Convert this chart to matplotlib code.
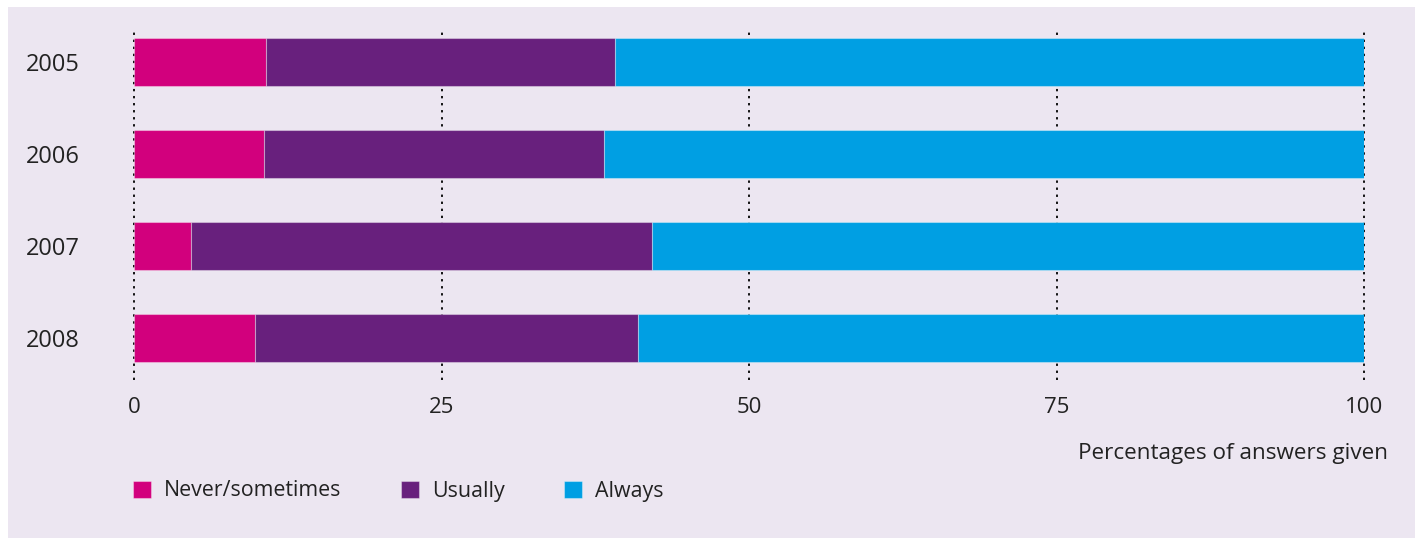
import matplotlib.pyplot as plt
from matplotlib.patches import Rectangle

years = ['2005', '2006', '2007', '2008']
never_sometimes = [10.7, 10.6, 4.6, 9.8]
usually = [28.4, 27.6, 37.5, 31.2]
always = [60.9, 61.8, 57.9, 59.0]

labels = ['Never/sometimes', 'Usually', 'Always']
colors = ['#D2007D', '#68207D', '#009FE3']
ticks = [0, 25, 50, 75, 100]

plt.rcParams['font.family'] = ['Open Sans', 'DejaVu Sans']
txt = '#222222'

W, H = 1422, 541
fig = plt.figure(figsize=(W / 100, H / 100), dpi=100)
fig.patch.set_facecolor('white')

# lavender panel behind everything
fig.patches.append(Rectangle((8 / W, 1 - 538 / H), (1415 - 8) / W, (538 - 7) / H,
                             transform=fig.transFigure, facecolor='#ECE6F1',
                             edgecolor='none', zorder=-1))

ax = fig.add_axes([134 / W, 1 - 380 / H, (1364 - 134) / W, (380 - 28) / H])
ax.set_zorder(1)
ax.set_facecolor('none')

y = list(range(len(years)))
left = [0] * len(years)
bars = []
for vals, lab, col in zip([never_sometimes, usually, always], labels, colors):
    b = ax.barh(y, vals, left=left, height=0.52, color=col, label=lab,
                edgecolor=(1, 1, 1, 0.35), linewidth=0.8, zorder=3)
    bars.append(b)
    left = [l + v for l, v in zip(left, vals)]

ax.set_xlim(0, 100)
ax.set_ylim(3 + 42 / 92, -34 / 92)
ax.set_xticks(ticks)
ax.set_yticks(y)
ax.set_yticklabels(years)
ax.tick_params(length=0, labelcolor=txt)
ax.tick_params(axis='y', pad=39, labelsize=17)
ax.tick_params(axis='x', pad=12, labelsize=16)
for s in ax.spines.values():
    s.set_visible(False)
ax.set_axisbelow(True)
ax.grid(axis='x', color='black', linestyle=(0, (1.3, 2.6)), linewidth=1.3)
ax.grid(axis='y', visible=False)
# keep the 0 and 100 lines at full width
for gl in ax.get_xgridlines():
    gl.set_clip_on(False)

fig.text(1388 / W, 1 - 453 / H, 'Percentages of answers given', ha='right',
         va='center', fontsize=16.2, color=txt)

fig.legend(handles=bars, labels=labels, loc='center left',
           bbox_to_anchor=(133 / W, 1 - 491 / H), ncol=3, frameon=False,
           fontsize=15.4, labelcolor=txt, handlelength=0.85, handleheight=0.85,
           handletextpad=0.6, columnspacing=2.78, borderaxespad=0, borderpad=0)

fig.savefig('out.png', dpi=100, facecolor='white')
